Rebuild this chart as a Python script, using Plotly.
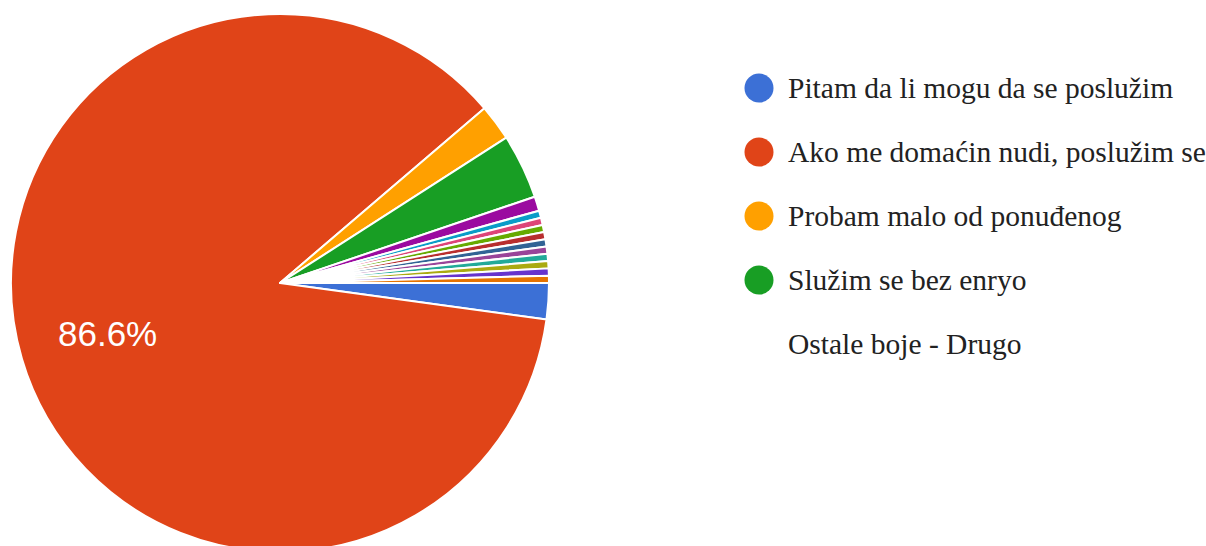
import math
import plotly.graph_objects as go

# Survey answers (response counts) in the order they are drawn, clockwise from 3 o'clock
categories = [
    "Pitam da li mogu da se poslužim",
    "Ako me domaćin nudi, poslužim se",
    "Probam malo od ponuđenog",
    "Služim se bez enryo",
    "Drugo 1", "Drugo 2", "Drugo 3", "Drugo 4", "Drugo 5", "Drugo 6",
    "Drugo 7", "Drugo 8", "Drugo 9", "Drugo 10", "Drugo 11",
]
counts = [5, 200, 5, 9, 2, 1, 1, 1, 1, 1, 1, 1, 1, 1, 1]
slice_colors = [
    "#3c70d6", "#e04418", "#ffa000", "#189e24", "#9b0aa0", "#0a9cc8",
    "#dd4477", "#66aa00", "#b82e2e", "#316395", "#994499", "#22aa99",
    "#aaaa11", "#6633cc", "#e67300",
]

# Legend entries: the four main answers with colour dots, then the note for the rest
legend_labels = categories[:4]
legend_colors = slice_colors[:4]
other_label = "Ostale boje - Drugo"

W, H = 1206, 566
CX, CY, R = 280, 283, 269
START_DEG = 90  # first slice starts at 3 o'clock

total = sum(counts)
share = [c / total for c in counts]

fig = go.Figure()

fig.add_trace(go.Pie(
    labels=categories,
    values=counts,
    sort=False,
    direction="clockwise",
    rotation=START_DEG,
    marker=dict(colors=slice_colors, line=dict(color="white", width=2)),
    textinfo="none",
    domain=dict(x=[(CX - R) / W, (CX + R) / W], y=[(H - CY - R) / H, (H - CY + R) / H]),
    showlegend=False,
    hoverinfo="label+percent",
))

# Percentage label for the dominant slice, placed along its middle angle
acc = 0.0
for c, p in zip(counts, share):
    if p > 0.05:
        mid = math.radians(START_DEG + (acc + p / 2) * 360)
        lx = CX + 0.67 * R * math.sin(mid)
        ly = CY - 0.67 * R * math.cos(mid)
        fig.add_annotation(
            x=lx, y=ly, xref="x", yref="y",
            text=f"{p * 100:.1f}%", showarrow=False,
            xanchor="center", yanchor="middle",
            font=dict(family="Liberation Sans, Arial, sans-serif", size=35, color="white"),
        )
    acc += p

# Legend dots drawn on a pixel-scaled hidden axis
legend_y = [88, 152, 216, 280]
other_y = 344
dot_x = 759
text_x = 786

fig.add_trace(go.Scatter(
    x=[dot_x] * len(legend_labels),
    y=legend_y,
    mode="markers",
    marker=dict(size=29, color=legend_colors, line=dict(width=0)),
    showlegend=False,
    hoverinfo="skip",
))

for lab, y in zip(legend_labels + [other_label], legend_y + [other_y]):
    fig.add_annotation(
        x=text_x, y=y, xref="x", yref="y",
        text=lab, showarrow=False,
        xanchor="left", yanchor="middle",
        font=dict(family="Liberation Serif, Times New Roman, serif", size=29.5, color="#222222"),
    )

fig.update_layout(
    width=W, height=H,
    margin=dict(l=0, r=0, t=0, b=0),
    paper_bgcolor="white",
    plot_bgcolor="rgba(0,0,0,0)",
    xaxis=dict(range=[0, W], domain=[0, 1], visible=False, fixedrange=True),
    yaxis=dict(range=[H, 0], domain=[0, 1], visible=False, fixedrange=True),
)

fig.write_html(
    "out.html",
    post_script="document.body.style.margin='0';document.body.style.overflow='hidden';",
)
